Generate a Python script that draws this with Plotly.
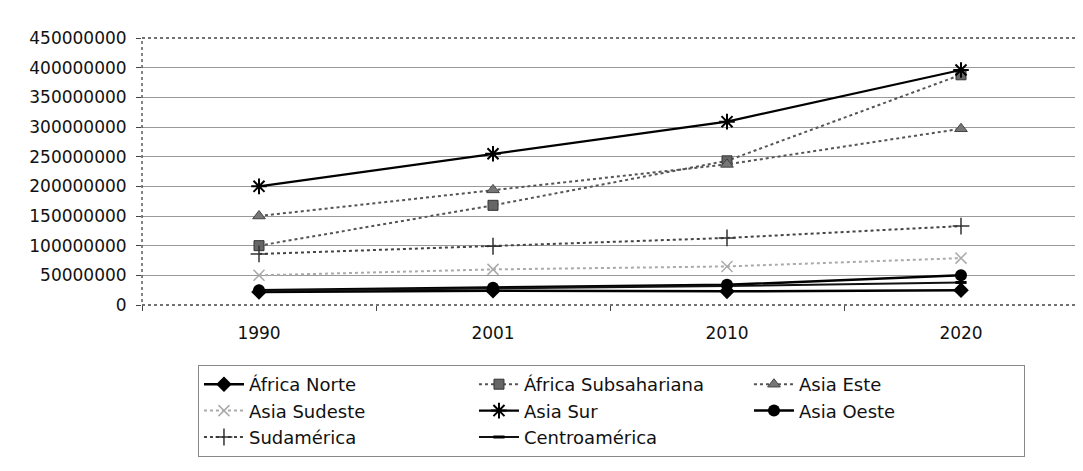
import plotly.graph_objects as go

years = ["1990", "2001", "2010", "2020"]
africa_norte = [22e6, 24e6, 23e6, 25e6]
africa_subsahariana = [100e6, 168e6, 243e6, 388e6]
asia_este = [150e6, 194e6, 237e6, 297e6]
asia_sudeste = [50e6, 60e6, 65e6, 79e6]
asia_sur = [200e6, 255e6, 309e6, 396e6]
asia_oeste = [25e6, 29e6, 34e6, 50e6]
sudamerica = [86e6, 99e6, 113e6, 133e6]
centroamerica = [24e6, 28e6, 32e6, 38e6]
y_ticks = [0, 50e6, 100e6, 150e6, 200e6, 250e6, 300e6, 350e6, 400e6, 450e6]

series = [
    ("África Norte", africa_norte, dict(color="#000", width=2.5, dash="solid"),
     dict(symbol="diamond", size=12, color="#000")),
    ("África Subsahariana", africa_subsahariana, dict(color="#555", width=2, dash="dot"),
     dict(symbol="square", size=10, color="#666", line=dict(color="#333", width=1))),
    ("Asia Este", asia_este, dict(color="#555", width=2, dash="dot"),
     dict(symbol="triangle-up", size=11, color="#777", line=dict(color="#444", width=1))),
    ("Asia Sudeste", asia_sudeste, dict(color="#aaa", width=2, dash="dot"),
     dict(symbol="x-thin-open", size=11, color="#aaa", line=dict(color="#aaa", width=1.5))),
    ("Asia Sur", asia_sur, dict(color="#000", width=2.2, dash="solid"),
     dict(symbol="asterisk-open", size=13, color="#000", line=dict(color="#000", width=2))),
    ("Asia Oeste", asia_oeste, dict(color="#000", width=2.5, dash="solid"),
     dict(symbol="circle", size=12, color="#000")),
    ("Sudamérica", sudamerica, dict(color="#444", width=2, dash="dot"),
     dict(symbol="cross-thin-open", size=12, color="#333", line=dict(color="#333", width=1.5))),
    ("Centroamérica", centroamerica, dict(color="#111", width=2, dash="solid"),
     dict(symbol="line-ew-open", size=8, color="#000", line=dict(color="#000", width=3))),
]

fig = go.Figure()
for name, vals, ln, mk in series:
    fig.add_trace(go.Scatter(x=years, y=vals, name=name, mode="lines+markers",
                             line=ln, marker=mk))

fig.update_layout(
    width=1075, height=463,
    margin=dict(l=134, r=5, t=30, b=166),
    paper_bgcolor="white", plot_bgcolor="white",
    font=dict(family="DejaVu Sans", color="#111"),
    showlegend=True,
    legend=dict(
        orientation="h", x=0.0598, y=-0.2247, xanchor="left", yanchor="top",
        bordercolor="#888", borderwidth=1, bgcolor="white",
        font=dict(size=18, family="DejaVu Sans", color="#111"),
        entrywidth=220, entrywidthmode="pixels", itemwidth=40,
    ),
    xaxis=dict(
        type="category", range=[-0.5, 3.5], tickson="boundaries",
        ticks="outside", ticklen=5, tickcolor="#444",
        showgrid=False, zeroline=False, showline=False,
        tickfont=dict(size=17), ticklabelstandoff=16,
    ),
    yaxis=dict(
        range=[0, 450e6], tickvals=y_ticks, ticktext=[str(int(v)) for v in y_ticks],
        ticks="outside", ticklen=5, tickcolor="#444",
        showgrid=True, gridcolor="#999", gridwidth=1, zeroline=False, showline=False,
        tickfont=dict(size=17), ticklabelstandoff=6,
    ),
    shapes=[
        dict(type="rect", xref="paper", yref="paper", x0=0, x1=1, y0=0, y1=1,
             line=dict(color="#444", width=1.3, dash="dot"), layer="above"),
        dict(type="rect", xref="paper", yref="paper", x0=-0.1442, x1=1.02, y0=-0.65, y1=1.1199,
             line=dict(color="#999", width=1)),
    ],
)

fig.write_html("out.html")
